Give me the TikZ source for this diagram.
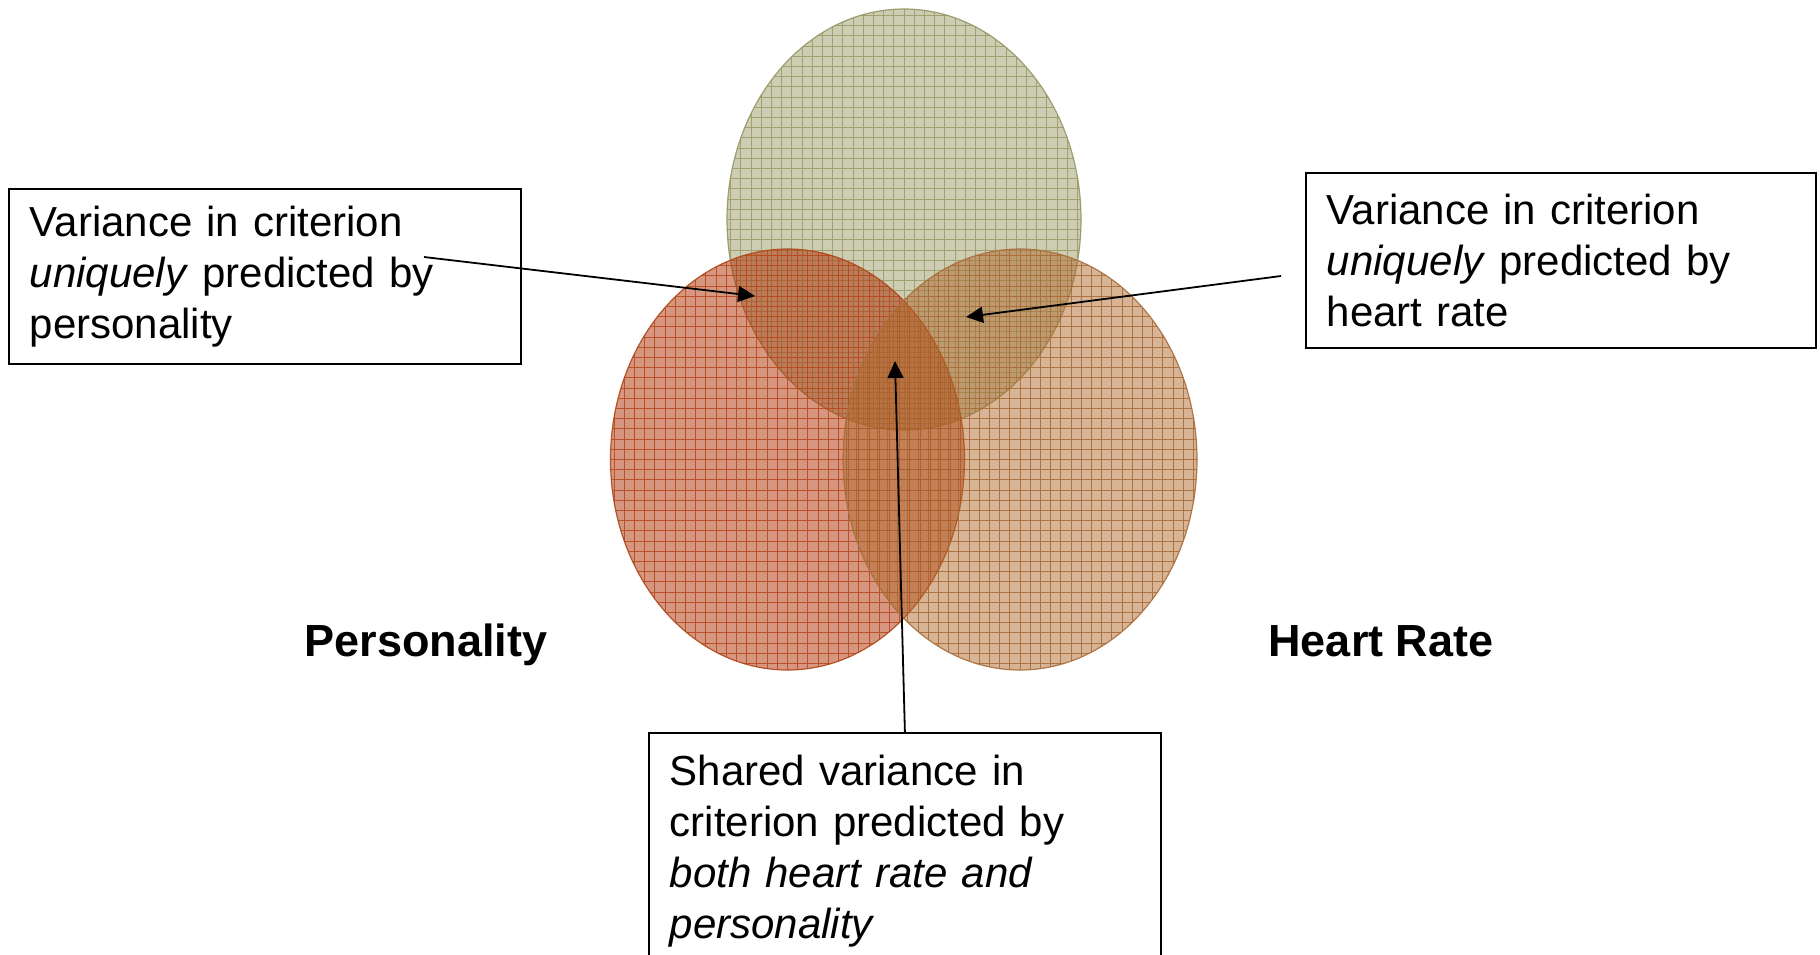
\documentclass[tikz,border=0pt]{standalone}
\usepackage{fontspec}
\setmainfont{Liberation Sans}
\usetikzlibrary{arrows.meta,shapes.geometric}

\definecolor{critfill}{RGB}{155,155,105}
\definecolor{critgrid}{RGB}{150,150,95}
\definecolor{critline}{RGB}{150,150,100}
\definecolor{persfill}{RGB}{175,45,0}
\definecolor{persgrid}{RGB}{180,65,20}
\definecolor{persline}{RGB}{176,70,25}
\definecolor{hrfill}{RGB}{175,105,45}
\definecolor{hrgrid}{RGB}{165,100,45}
\definecolor{hrline}{RGB}{170,110,60}

\tikzset{
  vennset/.style n args={3}{ellipse, minimum width=354pt, minimum height=421pt,
    inner sep=0pt, fill=#1, fill opacity=0.5, draw=#3, draw opacity=0.9,
    line width=1.2pt,
    path picture={\draw[#2, draw opacity=0.8, line width=1pt, step=10.2pt]
      (path picture bounding box.south west) grid
      (path picture bounding box.north east);}},
  textbox/.style={draw, line width=1.8pt, align=left, anchor=north west,
    inner xsep=21pt, font=\fontsize{42pt}{51pt}\selectfont},
  setlabel/.style={anchor=base, font=\fontsize{45pt}{54pt}\selectfont\bfseries},
  pointer/.style={line width=1.8pt, -{Triangle[length=17pt,width=16pt]}},
}

\begin{document}
\begin{tikzpicture}[x=1pt,y=-1pt]
  \useasboundingbox (0,0) rectangle (1820,954);
  \clip (0,0) rectangle (1820,954);

  % the three overlapping sets
  \node[vennset={critfill}{critgrid}{critline}] (crit) at (904,219.5) {};
  \node[vennset={persfill}{persgrid}{persline}] (pers) at (787.5,459.5) {};
  \node[vennset={hrfill}{hrgrid}{hrline}] (hr) at (1020,459.5) {};

  % set labels
  \node[setlabel] (perslabel) at (426,656) {Personality};
  \node[setlabel] (hrlabel) at (1381,656) {Heart Rate};

  % explanation boxes
  \node[textbox, text width=470pt, minimum height=175pt] (lbox) at (8,188)
    {Variance in criterion\\ \textit{uniquely} predicted by\\ personality};
  \node[textbox, text width=468pt, minimum height=175pt] (rbox) at (1305,172)
    {Variance in criterion\\ \textit{uniquely} predicted by\\ heart rate};
  \node[textbox, text width=470pt, inner ysep=22pt] (bbox) at (648,732)
    {Shared variance in\\ criterion predicted by\\ \textit{both heart rate and}\\ \textit{personality}};

  % pointers into the regions
  \coordinate (lstart) at (424,257);
  \coordinate (ltip) at (755,296);
  \coordinate (rstart) at (1281,276);
  \coordinate (rtip) at (966,317);
  \coordinate (btip) at (895,361);
  \draw[pointer] (lstart) -- (ltip);
  \draw[pointer] (rstart) -- (rtip);
  \draw[pointer] (bbox.north) -- (btip);
\end{tikzpicture}
\end{document}
